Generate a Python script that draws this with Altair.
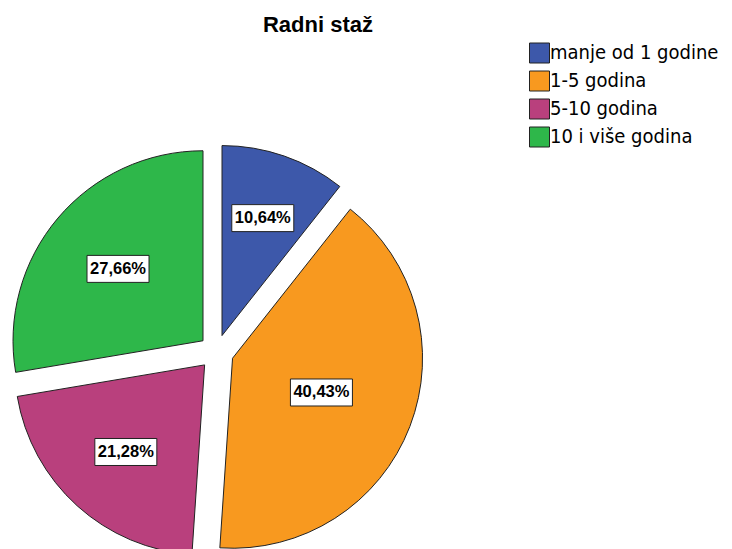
import altair as alt
import pandas as pd

title_text = "Radni staž"
categories = ["manje od 1 godine", "1-5 godina", "5-10 godina", "10 i više godina"]
values = [10.64, 40.43, 21.28, 27.66]
colors = ["#3d58aa", "#f8991f", "#b9407d", "#2eb74a"]

df = pd.DataFrame({"cat": categories, "value": values, "order": list(range(len(values)))})

W, H = 716, 541
CX, CY = 208.3, 344.0   # pie centre in plot coordinates
R = 190                 # radius
D = 17.4                # explode distance
BW, BH = 62, 27         # label box size

LEG_FONT = "DejaVu Sans Condensed, Liberation Sans"
LAB_FONT = "Liberation Sans"

xs = alt.Scale(domain=[0, W], range=[0, W], nice=False, zero=False)
ys = alt.Scale(domain=[0, H], range=[0, H], nice=False, zero=False)

base = alt.Chart(df).transform_window(
    cum="sum(value)", sort=[alt.SortField("order")], frame=[None, 0]
).transform_joinaggregate(
    total="sum(value)"
).transform_calculate(
    start="2*PI*(datum.cum - datum.value)/datum.total",
    end="2*PI*datum.cum/datum.total",
).transform_calculate(
    mid="(datum.start + datum.end)/2",
    half="(datum.end - datum.start)/2",
).transform_calculate(
    cx=f"{CX} + {D}*sin(datum.mid)",
    cy=f"{CY} - {D}*cos(datum.mid)",
    cdist=f"2*{R}*sin(datum.half)/(3*datum.half)",
    label="replace(format(datum.value, '.2f'), '.', ',') + '%'",
).transform_calculate(
    lx="datum.cx + datum.cdist*sin(datum.mid)",
    ly="datum.cy - datum.cdist*cos(datum.mid)",
).transform_calculate(
    bx1=f"datum.lx - {BW/2}",
    bx2=f"datum.lx + {BW/2}",
    by1=f"datum.ly - {BH/2}",
    by2=f"datum.ly + {BH/2}",
)

arcs = base.mark_arc(outerRadius=R, stroke="#222222", strokeWidth=1).encode(
    x=alt.X("cx:Q", scale=xs, axis=None),
    y=alt.Y("cy:Q", scale=ys, axis=None),
    theta=alt.Theta("start:Q", scale=None),
    theta2="end:Q",
    fill=alt.Fill(
        "cat:N",
        scale=alt.Scale(domain=categories, range=colors),
        sort=categories,
        legend=alt.Legend(
            title=None, orient="none", legendX=521, legendY=34.5,
            symbolType="square", symbolSize=400,
            symbolStrokeColor="#222222", symbolStrokeWidth=1,
            labelFont=LEG_FONT, labelFontSize=20, labelColor="#000000",
            labelLimit=400, rowPadding=3, labelOffset=0, padding=0,
        ),
    ),
)

boxes = base.mark_rect(fill="white", stroke="#222222", strokeWidth=1).encode(
    x=alt.X("bx1:Q", scale=xs, axis=None), x2="bx2:Q",
    y=alt.Y("by1:Q", scale=ys, axis=None), y2="by2:Q",
)

texts = base.mark_text(font=LAB_FONT, fontWeight="bold", fontSize=16.5, color="#000000",
                       align="center", baseline="middle").encode(
    x=alt.X("lx:Q", scale=xs, axis=None),
    y=alt.Y("ly:Q", scale=ys, axis=None),
    text="label:N",
)

title = alt.Chart(pd.DataFrame({"t": [title_text]})).mark_text(
    font="Liberation Sans", fontSize=22, fontWeight="bold", color="#000000",
    align="center", baseline="alphabetic",
).encode(text="t:N", x=alt.value(310), y=alt.value(24))

chart = alt.layer(arcs, boxes, texts, title).properties(
    width=W, height=H,
    autosize=alt.AutoSizeParams(type="none"),
    padding={"left": 0, "top": 0, "right": 0, "bottom": 0},
).configure_view(strokeWidth=0)

chart.save("out.html", embed_options={"renderer": "svg", "actions": False})
